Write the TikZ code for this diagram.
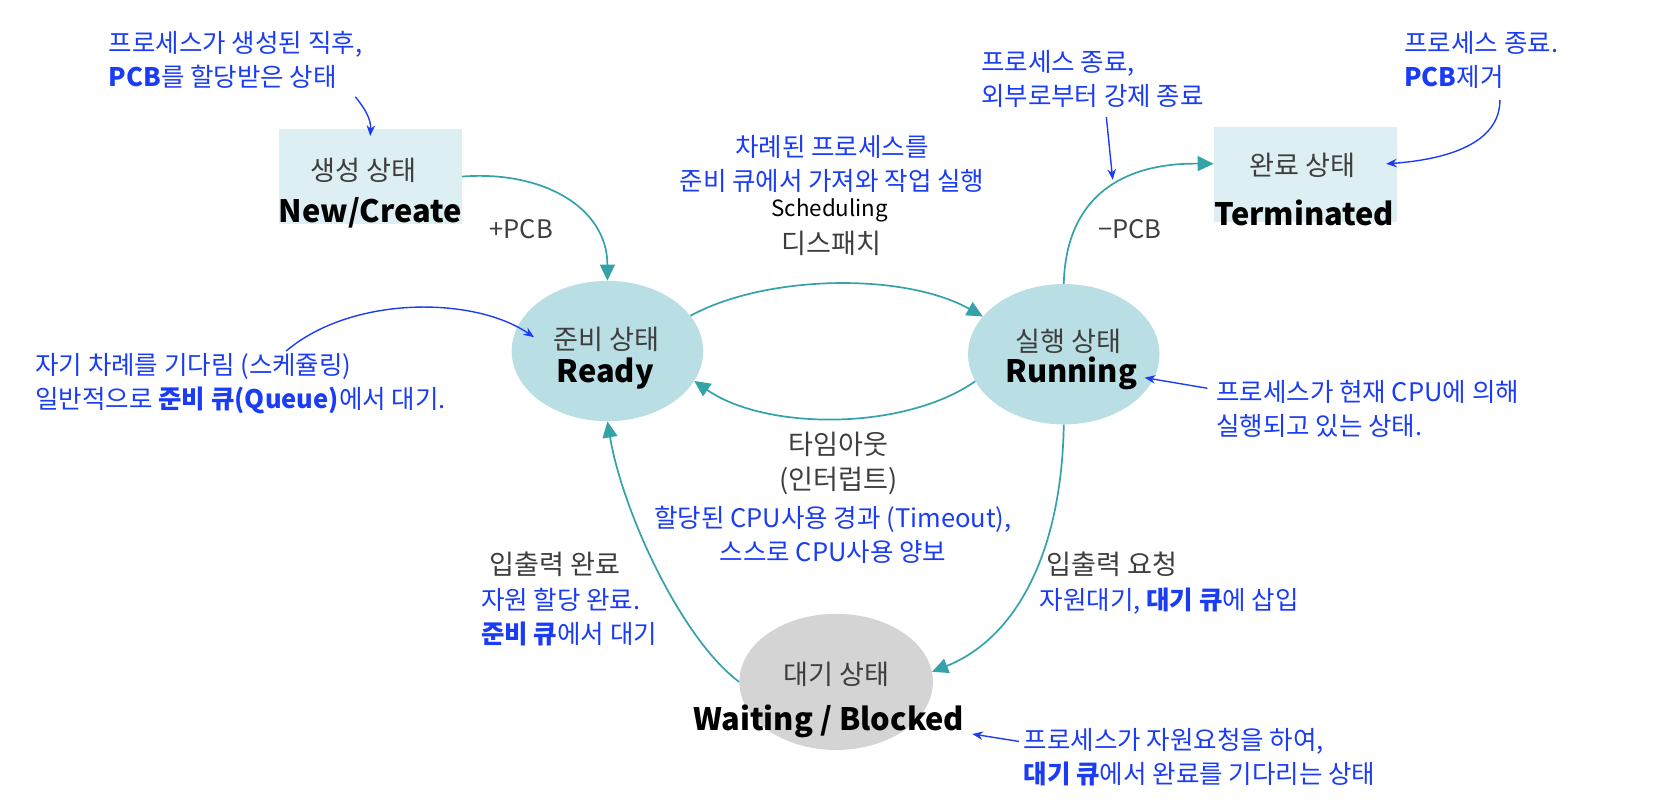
\documentclass[tikz,border=0pt]{standalone}
\usepackage{fontspec}
\setmainfont{Noto Sans CJK KR}
\usetikzlibrary{arrows.meta,shapes.geometric}
\definecolor{arrowc}{HTML}{34A2A9}
\definecolor{blueT}{HTML}{1A3CF5}
\definecolor{grayT}{HTML}{3E3E3E}
\definecolor{ellfill}{HTML}{B9DFE5}
\definecolor{boxfill}{HTML}{DDEFF2}
\definecolor{waitfill}{HTML}{D4D4D4}
\begin{document}
\begin{tikzpicture}[x=1pt,y=-1pt,
  statebox/.style={rectangle, fill=boxfill, minimum width=172pt, minimum height=90pt, inner sep=0pt},
  stateell/.style={ellipse, fill=ellfill, minimum width=180pt, minimum height=132pt, inner sep=0pt},
  lbl/.style={text=grayT, inner sep=0pt, font=\fontsize{25.5}{29}\selectfont},
  en/.style={text=black, inner sep=0pt, font=\fontsize{29}{32}\selectfont\bfseries},
  note/.style={text=blueT, inner sep=0pt, align=left, font=\fontsize{24}{32}\selectfont},
  notec/.style={note, align=center},
  tarrow/.style={draw=arrowc, line width=1.6pt, -{Triangle[length=15pt,width=14pt]}},
  barrow/.style={draw=blueT, line width=1.3pt, -{Stealth[length=10pt,width=8pt]}}]
\useasboundingbox (0,0) rectangle (1568,752);

% states
\node[statebox] (new) at (348,166) {};
\node[lbl] (newk) at (342,160) {생성 상태};
\node[en] (newe) at (348,200) {New/Create};

\node[statebox] (term) at (1227,164) {};
\node[lbl] (termk) at (1224,155) {완료 상태};
\node[en] (terme) at (1226,200) {Terminated};

\node[stateell] (ready) at (571,330) {};
\node[lbl] (readyk) at (570,319) {준비 상태};
\node[en] (readye) at (569,351) {Ready};

\node[stateell] (run) at (1000,333) {};
\node[lbl] (runk) at (1004,321) {실행 상태};
\node[en] (rune) at (1007,351) {Running};

\node[ellipse, fill=waitfill, minimum width=182pt, minimum height=128pt, inner sep=0pt] (wait) at (786,641) {};
\node[lbl] (waitk) at (786,634) {대기 상태};
\node[en] (waite) at (779,678) {Waiting / Blocked};

% transitions
\draw[tarrow] (new.east) .. controls (510,160) and (571,195) .. (ready.north);
\draw[tarrow] (ready.23) .. controls (720,258) and (850,256) .. (run.155);
\draw[tarrow] (run.197) .. controls (850,405) and (720,405) .. (ready.341);
\draw[tarrow] (run.north) .. controls (1002,185) and (1055,153) .. ([yshift=10pt]term.west);
\draw[tarrow] (run.south) .. controls (998,520) and (955,600) .. (wait.6);
\draw[tarrow] (wait.west) .. controls (640,600) and (585,480) .. (ready.south);

% transition labels
\node[lbl, font=\fontsize{24}{28}\selectfont] (pluspcb) at (490,215) {+PCB};
\node[lbl, font=\fontsize{24}{28}\selectfont] (minuspcb) at (1062,215) {−PCB};
\node[text=black, inner sep=0pt, font=\fontsize{21}{24}\selectfont] (sched) at (780,198) {Scheduling};
\node[lbl] (disp) at (782,229) {디스패치};
\node[lbl] (tout) at (788,418) {타임아웃};
\node[lbl] (intr) at (788,452) {(인터럽트)};
\node[lbl] (iodone) at (522,530) {입출력 완료};
\node[lbl] (ioreq) at (1045,530) {입출력 요청};

% blue notes
\node[note, anchor=west] (n1) at (102,56) {프로세스가 생성된 직후,\\\textbf{PCB}를 할당받은 상태};
\node[notec] (n2) at (782,154) {차례된 프로세스를\\준비 큐에서 가져와 작업 실행};
\node[note, anchor=west] (n3) at (922,74) {프로세스 종료,\\외부로부터 강제 종료};
\node[note, anchor=west] (n4) at (1320,56) {프로세스 종료.\\\textbf{PCB}제거};
\node[note, anchor=west] (n5) at (33,361) {자기 차례를 기다림 (스케쥴링)\\일반적으로 \textbf{준비 큐(Queue)}에서 대기.};
\node[notec] (n6) at (783,503) {할당된 CPU사용 경과 (Timeout),\\스스로 CPU사용 양보};
\node[note, anchor=west] (n7) at (452,580) {자원 할당 완료.\\\textbf{준비 큐}에서 대기};
\node[note, anchor=west] (n8) at (977,565) {자원대기, \textbf{대기 큐}에 삽입};
\node[note, anchor=west] (n9) at (1143,384) {프로세스가 현재 CPU에 의해\\실행되고 있는 상태.};
\node[note, anchor=west] (n10) at (962,712) {프로세스가 자원요청을 하여,\\\textbf{대기 큐}에서 완료를 기다리는 상태};

% blue pointer arrows
\coordinate (a1) at (334,91);
\coordinate (a2s) at (1410,94);
\coordinate (a2e) at (1303,154);
\coordinate (a3s) at (1040,110);
\coordinate (a3e) at (1046,169);
\coordinate (a4s) at (269,330);
\coordinate (a4e) at (502,317);
\coordinate (a5s) at (1135,365);
\coordinate (a5e) at (1076,355);
\coordinate (a6s) at (958,697);
\coordinate (a6e) at (914,690);
\draw[barrow] (a1) .. controls (343,102) and (349,112) .. ([yshift=-7pt]new.north);
\draw[barrow] (a2s) .. controls (1410,135) and (1360,150) .. (a2e);
\draw[barrow] (a3s) -- (a3e);
\draw[barrow] (a4s) .. controls (330,278) and (445,278) .. (a4e);
\draw[barrow] (a5s) -- (a5e);
\draw[barrow] (a6s) -- (a6e);
\end{tikzpicture}
\end{document}
